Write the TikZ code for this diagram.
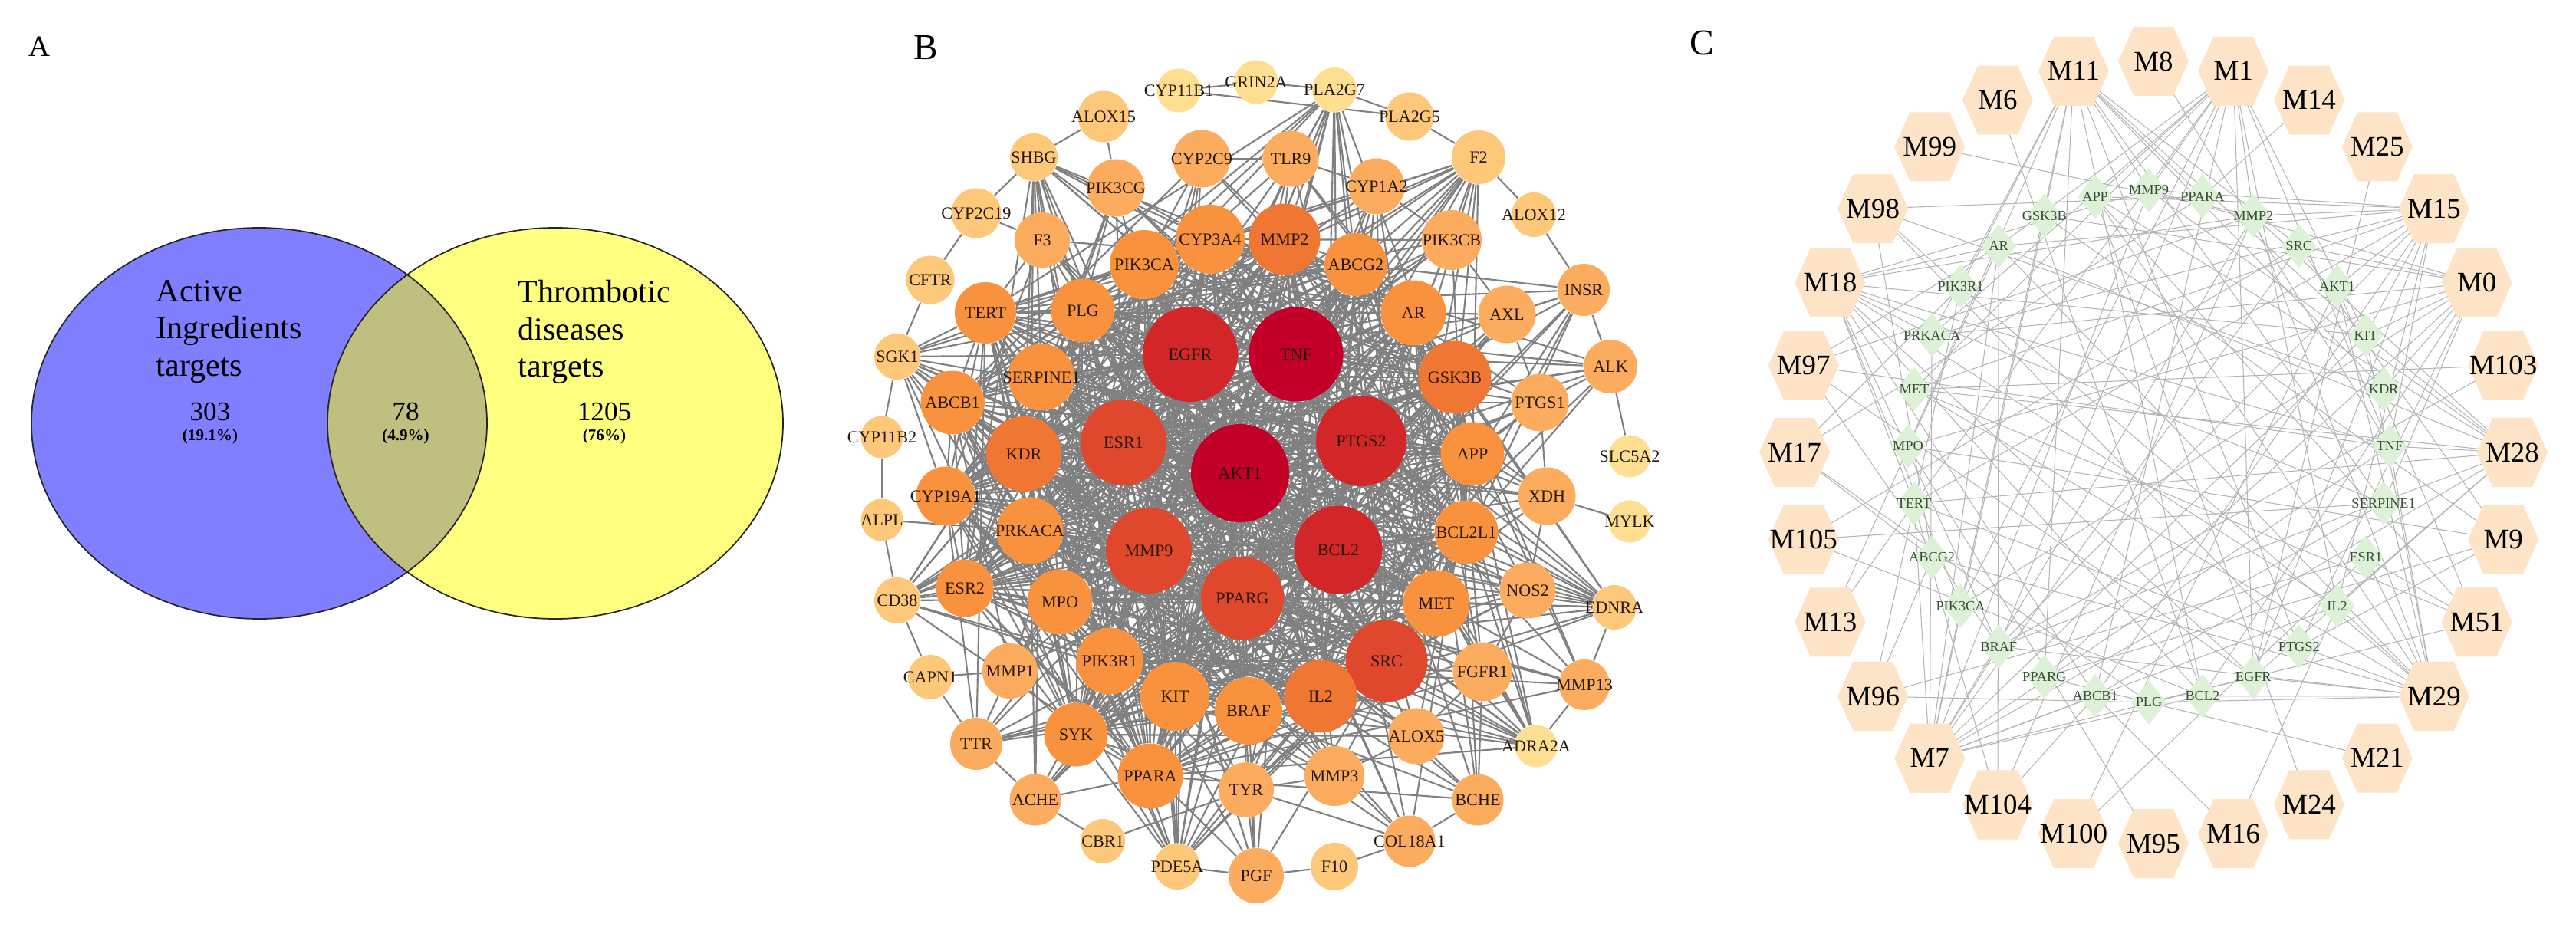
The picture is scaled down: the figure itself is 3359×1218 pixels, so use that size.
\documentclass[tikz,border=0pt]{standalone}
\usepackage{fontspec}
\setmainfont{Liberation Serif}
\usetikzlibrary{shapes.geometric,calc}

\definecolor{setA}{RGB}{0,0,255}
\definecolor{setB}{RGB}{255,255,0}
\definecolor{g1}{RGB}{194,0,40}
\definecolor{g2}{RGB}{210,38,40}
\definecolor{g3}{RGB}{224,72,46}
\definecolor{g4}{RGB}{240,118,52}
\definecolor{g5}{RGB}{249,146,62}
\definecolor{g6}{RGB}{252,172,94}
\definecolor{g7}{RGB}{253,200,122}
\definecolor{g8}{RGB}{254,222,145}
\definecolor{gtext}{RGB}{40,24,10}
\definecolor{bgray}{RGB}{128,128,128}
\definecolor{cgray}{RGB}{180,180,180}
\definecolor{hexfill}{RGB}{253,228,198}
\definecolor{tfill}{RGB}{221,241,214}
\definecolor{ttext}{RGB}{55,75,55}

\pgfdeclarelayer{edges}
\pgfsetlayers{edges,main}

% gene/x/y/colour/diameter (cm) of the PPI network
\newcommand\bnodes{AKT1/1617/617/g1/1.28, TNF/1690/462/g1/1.23, EGFR/1552/462/g2/1.24,
  PTGS2/1775/575/g2/1.18, BCL2/1745/717/g2/1.15, ESR1/1465/577/g3/1.12,
  MMP9/1498/718/g3/1.12, PPARG/1620/780/g3/1.08, SRC/1808/862/g3/1.07,
  KDR/1335/592/g4/0.98, MMP2/1675/312/g4/0.93, GSK3B/1897/492/g4/0.95,
  IL2/1722/908/g4/0.95, CYP3A4/1578/312/g5/0.90, PIK3CA/1492/345/g5/0.90,
  SERPINE1/1358/492/g5/0.87, TERT/1285/408/g5/0.80, PLG/1412/405/g5/0.83,
  ABCB1/1242/525/g5/0.83, PRKACA/1343/692/g5/0.87, CYP19A1/1233/647/g5/0.77,
  ESR2/1258/767/g5/0.75, MPO/1382/785/g5/0.85, PIK3R1/1447/862/g5/0.87,
  KIT/1532/908/g5/0.90, BRAF/1628/927/g5/0.88, SYK/1403/958/g5/0.83,
  PPARA/1500/1012/g5/0.85, MET/1873/787/g5/0.87, BCL2L1/1912/694/g5/0.83,
  APP/1920/592/g5/0.83, AR/1843/408/g5/0.85, ABCG2/1768/345/g5/0.82,
  PIK3CB/1893/313/g6/0.78, CYP1A2/1795/243/g6/0.73, TLR9/1683/207/g6/0.73,
  CYP2C9/1567/207/g6/0.75, PIK3CG/1455/245/g6/0.75, F3/1359/313/g6/0.72,
  AXL/1965/410/g6/0.75, PTGS1/2008/525/g6/0.75, XDH/2017/647/g6/0.75,
  NOS2/1992/770/g6/0.73, FGFR1/1933/876/g6/0.77, ALOX5/1847/960/g6/0.73,
  MMP3/1740/1012/g6/0.78, TYR/1625/1030/g6/0.72, BCHE/1927/1043/g6/0.67,
  COL18A1/1838/1097/g6/0.67, PGF/1638/1142/g6/0.72, TTR/1273/970/g6/0.68,
  ACHE/1350/1043/g6/0.67, MMP1/1317/875/g6/0.72, ALK/2100/478/g6/0.70,
  INSR/2065/378/g6/0.68, MMP13/2066/893/g6/0.66, F2/1928/205/g7/0.70,
  PLA2G5/1838/152/g7/0.63, ALOX15/1439/152/g7/0.67, SHBG/1348/205/g7/0.62,
  CYP2C19/1273/278/g7/0.65, CFTR/1213/365/g7/0.63, SGK1/1170/465/g7/0.60,
  CYP11B2/1150/570/g7/0.55, ALPL/1150/678/g7/0.55, CD38/1170/783/g7/0.60,
  CAPN1/1213/883/g7/0.58, CBR1/1438/1097/g7/0.58, PDE5A/1535/1130/g7/0.60,
  F10/1740/1130/g7/0.62, ALOX12/2000/280/g7/0.58, EDNRA/2105/792/g7/0.58,
  CYP11B1/1537/118/g8/0.57, GRIN2A/1638/107/g8/0.57, PLA2G7/1740/117/g8/0.58,
  SLC5A2/2125/595/g8/0.55, MYLK/2125/680/g8/0.55, ADRA2A/2003/973/g8/0.55}

% targets of the compound-target network, clockwise from the top
\newcommand\tlist{MMP9,PPARA,MMP2,SRC,AKT1,KIT,KDR,TNF,SERPINE1,ESR1,IL2,PTGS2,
  EGFR,BCL2,PLG,ABCB1,PPARG,BRAF,PIK3CA,ABCG2,TERT,MPO,MET,PRKACA,PIK3R1,AR,GSK3B,APP}

% compounds/number of links, clockwise from the top
\newcommand\mlist{M8/1,M1/14,M14/1,M25/1,M15/14,M0/12,M103/2,M28/12,M9/5,M51/5,
  M29/16,M21/1,M24/1,M16/2,M95/1,M100/2,M104/4,M7/16,M96/4,M13/2,M105/3,M17/4,
  M97/5,M18/14,M98/5,M99/1,M6/1,M11/14}

\tikzset{
  panel/.style={font=\fontsize{13.5}{16}\selectfont},
  settext/.style={anchor=north west, inner sep=0pt, align=left, font=\fontsize{12}{13.7}\selectfont},
  setnum/.style={inner sep=0pt, font=\fontsize{10}{12}\selectfont},
  setpct/.style={inner sep=0pt, font=\bfseries\fontsize{6}{7}\selectfont},
  gene/.style={circle, inner sep=0pt},
  glab/.style={text=gtext, font=\fontsize{6.3}{7}\selectfont, inner sep=0pt},
  bline/.style={draw=bgray, line width=0.6pt},
  target/.style={diamond, fill=tfill, minimum width=0.46cm, minimum height=0.58cm, inner sep=0pt},
  tlab/.style={text=ttext, font=\fontsize{5.2}{6}\selectfont, inner sep=0pt},
  hexnode/.style={rectangle, minimum width=0.92cm, minimum height=0.90cm, inner sep=0pt,
    font=\fontsize{10.5}{12}\selectfont,
    path picture={\fill[hexfill] (path picture bounding box.west)
      -- ($(path picture bounding box.north west)!0.22!(path picture bounding box.north east)$)
      -- ($(path picture bounding box.north west)!0.78!(path picture bounding box.north east)$)
      -- (path picture bounding box.east)
      -- ($(path picture bounding box.south west)!0.78!(path picture bounding box.south east)$)
      -- ($(path picture bounding box.south west)!0.22!(path picture bounding box.south east)$)
      -- cycle;}},
  cline/.style={draw=cgray, line width=0.3pt}
}

\begin{document}
\begin{tikzpicture}[x=0.01cm, y=-0.01cm]
    \useasboundingbox (0,0) rectangle (3359,1218);

    % Panel labels
    \node[font=\fontsize{11}{13}\selectfont] (labA) at (51,61) {A};
    \node[panel] (labB) at (1207,62) {B};
    \node[panel] (labC) at (2219,56) {C};

    % A: Venn diagram
    \node[ellipse, minimum width=5.94cm, minimum height=5.10cm, fill=setA, fill opacity=0.5] (setL) at (338,552) {};
    \node[ellipse, minimum width=5.94cm, minimum height=5.10cm, fill=setB, fill opacity=0.5] (setR) at (724,552) {};
    \foreach \s in {setL,setR}
        \draw[black!85, line width=0.5pt] (\s.center) ellipse [x radius=297, y radius=255];
    \node[settext] (txtL) at (203,365) {Active\\Ingredients\\targets};
    \node[settext] (txtR) at (675,365) {Thrombotic\\diseases\\targets};
    \node[setnum] (nL) at (274,537) {303};
    \node[setpct] (pL) at (274,569) {(19.1\%)};
    \node[setnum] (nM) at (529,537) {78};
    \node[setpct] (pM) at (529,569) {(4.9\%)};
    \node[setnum] (nR) at (788,537) {1205};
    \node[setpct] (pR) at (788,569) {(76\%)};

    % B: PPI network
    \foreach \g/\x/\y/\col/\dia in \bnodes
        \node[gene, fill=\col, minimum size=\dia cm, label={[glab]center:\g}] (\g) at (\x,\y) {};

    \begin{pgfonlayer}{edges}
    \foreach \ga/\xa/\ya/\ca/\da [count=\i] in \bnodes {
        \foreach \gb/\xb/\yb/\cb/\db [count=\j] in \bnodes {
            \ifnum\i<\j
                \ifnum\j<34
                    \pgfmathtruncatemacro\mk{mod(\i+2*\j,10)}
                    \ifnum\mk>0 \draw[bline] (\ga) -- (\gb); \fi
                \else\ifnum\i<34
                    \ifnum\j<57 \def\md{4}\else\def\md{6}\fi
                    \pgfmathtruncatemacro\mk{mod(3*\i+7*\j,\md)}
                    \ifnum\mk=0 \draw[bline] (\ga) -- (\gb); \fi
                \fi\fi
            \fi
        }
    }
    % links between outer nodes
    \foreach \p/\q in {ALOX15/SHBG, SHBG/CYP2C19, CYP2C19/CFTR, CFTR/SGK1, SGK1/CYP11B2,
        CYP11B2/ALPL, ALPL/CD38, CD38/CAPN1, CAPN1/TTR, TTR/ACHE, ACHE/CBR1, PGF/PDE5A,
        F10/PGF, COL18A1/F10, BCHE/COL18A1, MMP13/ADRA2A, EDNRA/MMP13, INSR/ALK,
        ALOX12/INSR, F2/ALOX12, PLA2G5/F2, PLA2G7/PLA2G5, GRIN2A/PLA2G7, CYP11B1/PLA2G5,
        F3/CYP2C19, F3/SHBG, PIK3CG/ALOX15, CYP2C9/TLR9, TLR9/CYP1A2, CYP1A2/PIK3CB,
        PIK3CB/AXL, AXL/PTGS1, PTGS1/XDH, XDH/NOS2, NOS2/FGFR1, FGFR1/ALOX5, ALOX5/MMP3,
        MMP3/TYR, TYR/PGF, MMP1/TTR, INSR/AXL, ALK/PTGS1, SLC5A2/ALK, MYLK/XDH,
        EDNRA/NOS2, BCHE/FGFR1, CBR1/TYR, CAPN1/MMP1, CD38/ESR2, ALPL/PRKACA, CYP11B1/GRIN2A}
        \draw[bline] (\p) -- (\q);
    \end{pgfonlayer}

    % C: compound-target network
    \foreach \g [count=\k from 0] in \tlist
        \node[target, label={[tlab]center:\g}] (t\k) at ({2802+314*cos(90-12.857*\k)},{582-334*sin(90-12.857*\k)}) {};
    \foreach \m/\deg [count=\k from 0] in \mlist
        \node[hexnode] (\m) at ({2808+468*cos(90-12.857*\k)},{590-510*sin(90-12.857*\k)}) {\m};

    \begin{pgfonlayer}{edges}
    \foreach \m/\deg [count=\k from 0] in \mlist {
        \foreach \s in {1,...,\deg} {
            \pgfmathtruncatemacro\tgt{mod(\k*11+\s*5+2,28)}
            \draw[cline] (\m.center) -- (t\tgt.center);
        }
    }
    \end{pgfonlayer}
\end{tikzpicture}
\end{document}
